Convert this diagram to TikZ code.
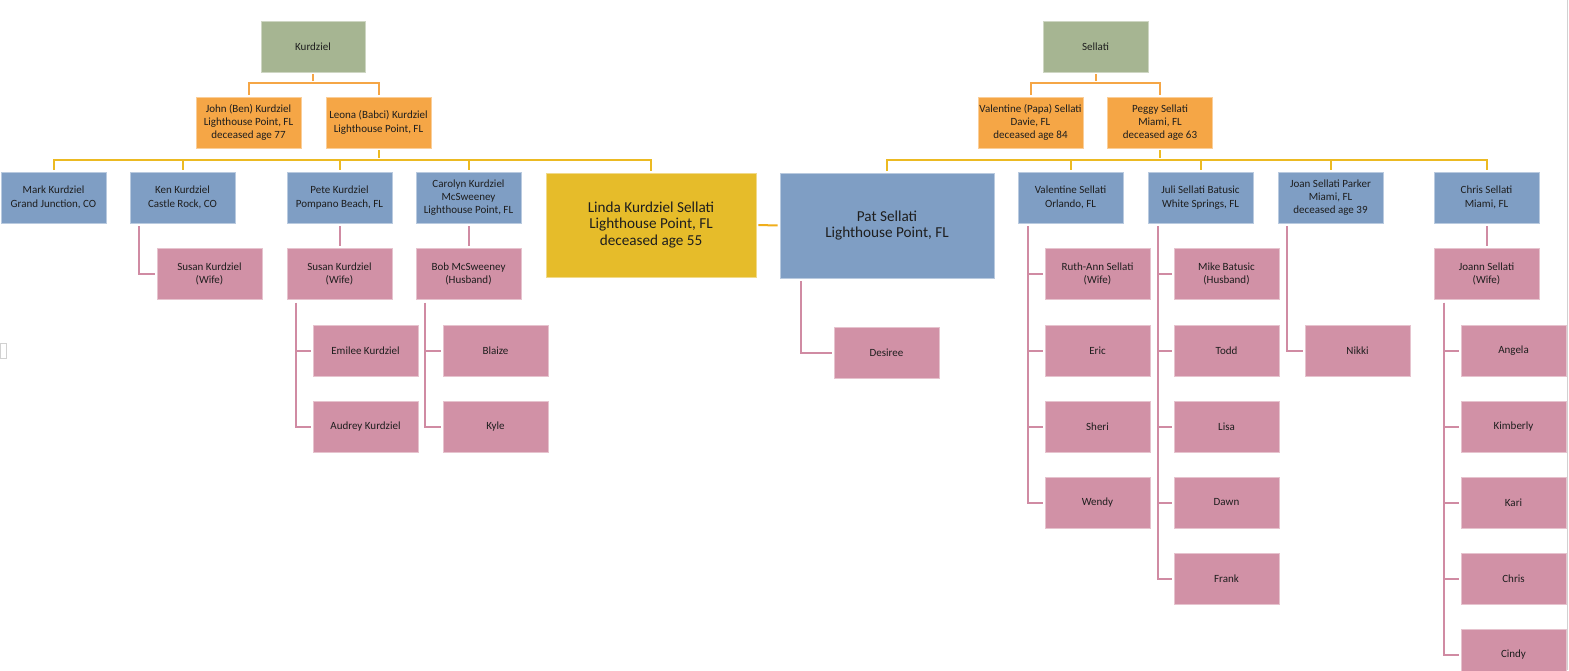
\documentclass[tikz,border=0pt]{standalone}
\usepackage{fontspec}
\setmainfont{Carlito}
\definecolor{cgreen}{HTML}{A6B592}
\definecolor{corange}{HTML}{F5A646}
\definecolor{cblue}{HTML}{7F9EC4}
\definecolor{cpink}{HTML}{D191A6}
\definecolor{cgold}{HTML}{E6BC2A}
\definecolor{lorange}{HTML}{F5A646}
\definecolor{lgold}{HTML}{ECBA22}
\definecolor{lpink}{HTML}{D08BA3}
\definecolor{ctext}{HTML}{1E1E1E}
\begin{document}
\begin{tikzpicture}[x=1pt,y=-1pt,
  box/.style={minimum width=105pt,minimum height=51pt,inner sep=0pt,align=center,
    font=\fontsize{11}{13.3}\selectfont,text=ctext,line width=0.7pt},
  bigbox/.style={box,minimum width=210pt,minimum height=104pt,font=\fontsize{15.2}{16.8}\selectfont},
  gbox/.style={box,fill=cgreen,draw=cgreen!55!white},
  obox/.style={box,fill=corange,draw=corange!55!white},
  bbox/.style={box,fill=cblue,draw=cblue!55!white},
  pbox/.style={box,fill=cpink,draw=cpink!55!white},
  oline/.style={draw=lorange,line width=2pt,shorten <=2pt,shorten >=2pt},
  yline/.style={draw=lgold,line width=2pt,shorten <=2pt,shorten >=2pt},
  pline/.style={draw=lpink,line width=2pt,shorten <=3pt,shorten >=2pt}]
\useasboundingbox (0,0) rectangle (1569,670);
% page artifacts
\draw[black!18,line width=0.8pt] (0,343) rectangle (6,358);
\draw[black!18,line width=1pt] (1567,0) -- (1567,670);

% ---------- Kurdziel ----------
\node[gbox,minimum width=104pt] (kurd) at (313,46.5) {Kurdziel};
\node[obox] (john) at (248.5,122.5) {John (Ben) Kurdziel\\Lighthouse Point, FL\\deceased age 77};
\node[obox] (leona) at (378.5,122.5) {Leona (Babci) Kurdziel\\Lighthouse Point, FL};
\node[bbox] (mark) at (53.5,197.5) {Mark Kurdziel\\Grand Junction, CO};
\node[bbox] (ken) at (182.5,197.5) {Ken Kurdziel\\Castle Rock, CO};
\node[bbox] (pete) at (339.5,197.5) {Pete Kurdziel\\Pompano Beach, FL};
\node[bbox] (carolyn) at (468.5,197.5) {Carolyn Kurdziel\\McSweeney\\Lighthouse Point, FL};
\node[bigbox,fill=cgold,draw=cgold!55!white] (linda) at (651,225) {Linda Kurdziel Sellati\\Lighthouse Point, FL\\deceased age 55};
\node[pbox] (susank) at (209.5,274) {Susan Kurdziel\\(Wife)};
\node[pbox] (susanp) at (339.5,274) {Susan Kurdziel\\(Wife)};
\node[pbox] (bob) at (468.5,274) {Bob McSweeney\\(Husband)};
\node[pbox] (emilee) at (365.5,350.5) {Emilee Kurdziel};
\node[pbox] (audrey) at (365.5,426.5) {Audrey Kurdziel};
\node[pbox] (blaize) at (495.5,350.5) {Blaize};
\node[pbox] (kyle) at (495.5,426.5) {Kyle};

% ---------- Sellati ----------
\node[gbox] (sellati) at (1095.5,46.5) {Sellati};
\node[obox] (papa) at (1030.5,122.5) {Valentine (Papa) Sellati\\Davie, FL\\deceased age 84};
\node[obox] (peggy) at (1160,122.5) {Peggy Sellati\\Miami, FL\\deceased age 63};
\node[bigbox,minimum width=214pt,minimum height=105pt,fill=cblue,draw=cblue!55!white] (pat) at (887,225.5) {Pat Sellati\\Lighthouse Point, FL};
\node[bbox] (vals) at (1070.5,197.5) {Valentine Sellati\\Orlando, FL};
\node[bbox] (juli) at (1200.5,197.5) {Juli Sellati Batusic\\White Springs, FL};
\node[bbox] (joan) at (1330.5,197.5) {Joan Sellati Parker\\Miami, FL\\deceased age 39};
\node[bbox] (chris) at (1486.5,197.5) {Chris Sellati\\Miami, FL};
\node[pbox] (desiree) at (886.5,352.5) {Desiree};
\node[pbox] (ruth) at (1097.5,274) {Ruth-Ann Sellati\\(Wife)};
\node[pbox] (eric) at (1097.5,350.5) {Eric};
\node[pbox] (sheri) at (1097.5,426.5) {Sheri};
\node[pbox] (wendy) at (1097.5,502.5) {Wendy};
\node[pbox] (mike) at (1226.5,274) {Mike Batusic\\(Husband)};
\node[pbox] (todd) at (1226.5,350.5) {Todd};
\node[pbox] (lisa) at (1226.5,426.5) {Lisa};
\node[pbox] (dawn) at (1226.5,502.5) {Dawn};
\node[pbox] (frank) at (1226.5,578.5) {Frank};
\node[pbox] (nikki) at (1357.5,350.5) {Nikki};
\node[pbox] (joann) at (1486.5,274) {Joann Sellati\\(Wife)};
\node[pbox] (angela) at (1513.5,350.5) {Angela};
\node[pbox] (kimberly) at (1513.5,426.5) {Kimberly};
\node[pbox] (kari) at (1513.5,502.5) {Kari};
\node[pbox] (chrisj) at (1513.5,578.5) {Chris};
\node[pbox] (cindy) at (1513.5,654.5) {Cindy};

% ---------- junctions ----------
\coordinate (kj) at (313,83);
\coordinate (kc) at (378.5,160);
\coordinate (sj) at (1095.5,83);
\coordinate (sc) at (1160,160);

% ---------- Kurdziel connectors ----------
\draw[oline] (kurd.south) -- (kj);
\draw[oline] (john.north) |- (kj) -| (leona.north);
\draw[yline] (leona.south) -- (kc);
\draw[yline] (mark.north) |- (kc) -| (linda.north);
\draw[yline,shorten <=0pt] (ken.north |- kc) -- (ken.north);
\draw[yline,shorten <=0pt] (pete.north |- kc) -- (pete.north);
\draw[yline,shorten <=0pt] (carolyn.north |- kc) -- (carolyn.north);
\draw[pline] ([xshift=9pt]ken.south west) |- (susank.west);
\draw[pline] (pete.south) -- (susanp.north);
\draw[pline] (carolyn.south) -- (bob.north);
\draw[pline] ([xshift=9pt]susanp.south west) |- (emilee.west);
\draw[pline] ([xshift=9pt]susanp.south west) |- (audrey.west);
\draw[pline] ([xshift=9pt]bob.south west) |- (blaize.west);
\draw[pline] ([xshift=9pt]bob.south west) |- (kyle.west);

% ---------- couple ----------
\draw[yline,draw=lgold!80!orange] (linda.east) -- (pat.west);

% ---------- Sellati connectors ----------
\draw[oline] (sellati.south) -- (sj);
\draw[oline] (papa.north) |- (sj) -| (peggy.north);
\draw[yline] (peggy.south) -- (sc);
\draw[yline] (pat.north) |- (sc) -| (chris.north);
\draw[yline,shorten <=0pt] (vals.north |- sc) -- (vals.north);
\draw[yline,shorten <=0pt] (juli.north |- sc) -- (juli.north);
\draw[yline,shorten <=0pt] (joan.north |- sc) -- (joan.north);
\draw[pline] ([xshift=21pt]pat.south west) |- (desiree.west);
\foreach \c in {ruth,eric,sheri,wendy}
  \draw[pline] ([xshift=10pt]vals.south west) |- (\c.west);
\foreach \c in {mike,todd,lisa,dawn,frank}
  \draw[pline] ([xshift=10pt]juli.south west) |- (\c.west);
\draw[pline] ([xshift=9pt]joan.south west) |- (nikki.west);
\draw[pline] (chris.south) -- (joann.north);
\foreach \c in {angela,kimberly,kari,chrisj,cindy}
  \draw[pline] ([xshift=10pt]joann.south west) |- (\c.west);
\end{tikzpicture}
\end{document}
